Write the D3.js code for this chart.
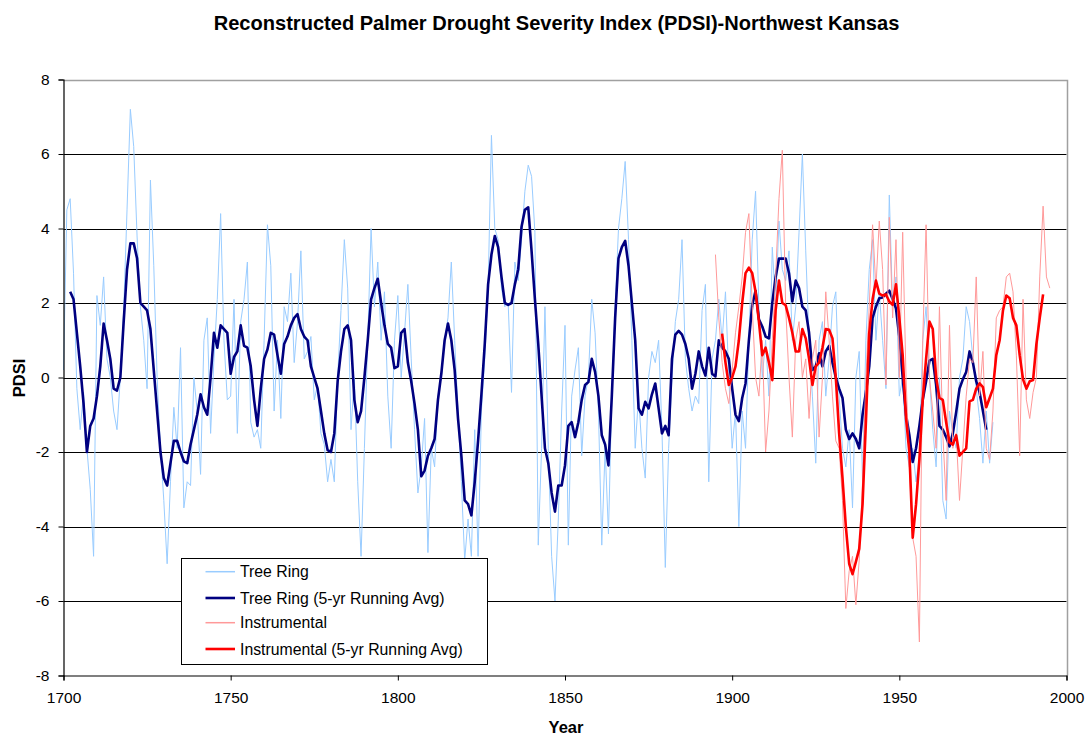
<!DOCTYPE html>
<html><head><meta charset="utf-8">
<script src="https://cdn.jsdelivr.net/npm/d3@7"></script>
<style>
body{margin:0;background:#fff}
svg{display:block}
text{font-family:Arial,"Liberation Sans",sans-serif;fill:#000}
</style>
</head><body>
<svg id="chart" width="1089" height="742"></svg>
<script>
const chartTitle = "Reconstructed Palmer Drought Severity Index (PDSI)-Northwest Kansas";
const xAxisTitle = "Year";
const yAxisTitle = "PDSI";
const xTickValues = [1700, 1750, 1800, 1850, 1900, 1950, 2000];
const yTickValues = [-8, -6, -4, -2, 0, 2, 4, 6, 8];
const seriesNames = ["Tree Ring", "Tree Ring (5-yr Running Avg)", "Instrumental", "Instrumental (5-yr Running Avg)"];

// Tree ring reconstruction, annual, 1700-1978
const treeRingStart = 1700;
const treeRing = [
 0.2, 4.5, 4.8, 2.8, -0.3, -1.4, -0.4, -1.9, -3.0, -4.8,
 2.2, 1.4, 2.7, 0.5, 0.0, -0.9, -1.4, 0.0, 1.8, 4.5,
 7.2, 6.2, 3.8, 1.9, 1.0, -0.3, 5.3, 3.0, 0.0, -1.9,
 -3.3, -5.0, -2.8, -0.8, -1.9, 0.8, -3.5, -2.8, -2.9, 0.0,
 -0.9, -2.6, 1.0, 1.6, -1.5, 0.5, 2.1, 4.4, 1.0, -0.6,
 -0.5, 2.1, -1.5, 1.5, 2.1, 3.1, -1.2, -1.6, -1.4, -1.9,
 1.0, 4.1, 3.0, -0.9, 1.0, -1.1, 1.9, 1.5, 2.8, 0.4,
 1.5, 3.4, 0.5, 0.7, 1.1, -0.6, -0.2, -1.5, -1.8, -2.8,
 -2.2, -2.8, 0.0, 1.8, 3.7, 2.4, -1.4, 0.0, -2.8, -4.8,
 -1.9, 1.0, 4.0, 1.9, 3.1, 1.0, 2.3, -0.5, -1.9, 1.0,
 2.2, 0.0, 1.2, 2.5, 0.5, -1.4, -3.1, -2.4, -1.1, -4.7,
 -1.9, -2.4, -0.5, 0.0, 1.0, 1.6, 3.1, 1.0, -0.9, -2.8,
 -4.9, -3.8, -4.8, -1.4, -4.8, -0.9, 0.5, 2.4, 6.5, 4.0,
 3.7, 2.4, 1.9, 2.0, -0.4, 3.1, 2.6, 3.7, 5.0, 5.7,
 5.4, 3.9, -4.5, -1.9, 1.9, -1.9, -4.8, -6.0, -3.8, -0.9,
 1.4, -4.5, -0.5, 0.2, 0.8, -2.1, -0.5, 0.0, 2.1, 1.2,
 -0.9, -4.5, -1.9, -4.2, -0.5, 1.9, 4.0, 4.8, 5.8, 3.7,
 1.0, -1.9, -0.5, -1.9, -2.7, 0.0, 0.7, 0.4, 1.0, -1.4,
 -5.1, -1.9, 0.0, 1.5, 2.1, 3.7, 0.5, -0.3, -0.9, -0.5,
 -0.7, 1.8, 2.5, -2.8, 0.5, 1.0, 2.1, 1.0, 2.3, 0.0,
 -1.9, -0.9, -4.0, -0.9, -1.9, 1.0, 3.7, 5.0, 1.9, 0.0,
 1.0, -0.5, 3.5, 1.9, 4.2, 2.9, 2.6, 3.4, 1.0, 1.9,
 3.9, 6.0, 3.4, 1.0, -0.5, -2.3, 1.0, 1.5, -0.5, 0.5,
 1.9, 2.3, -0.5, -1.9, -2.4, -1.4, -3.5, 0.0, 0.7, -2.8,
 1.0, 2.9, 3.7, 1.0, 2.3, 1.0, -0.3, 4.9, 1.9, 2.7,
 -0.5, 0.0, -1.9, -2.4, -1.9, -2.8, -2.1, 1.0, 1.9, 0.0,
 -1.4, -2.4, 0.0, -3.3, -3.8, -0.9, -1.5, -1.9, 0.0, 0.5,
 1.9, 1.5, 0.5, -0.3, -1.1, -2.3, -0.9, -2.3, -1.2
];

// Tree ring 5-yr running average, 1702-1976
const treeRingAvgStart = 1702;
const treeRingAvg = [
 2.3, 2.1, 1.2, 0.3, -0.7, -2.0, -1.3, -1.1,
 -0.5, 0.3, 1.45, 1.0, 0.5, -0.3, -0.35, 0.0, 1.5, 2.9,
 3.6, 3.6, 3.2, 2.0, 1.9, 1.8, 1.3, 0.2, -0.9, -2.0,
 -2.7, -2.9, -2.3, -1.7, -1.7, -2.0, -2.25, -2.3, -1.8, -1.4,
 -1.0, -0.45, -0.8, -1.0, 0.0, 1.2, 0.8, 1.4, 1.3, 1.2,
 0.1, 0.55, 0.7, 1.4, 0.85, 0.8, 0.3, -0.6, -1.3, -0.3,
 0.5, 0.75, 1.2, 1.15, 0.6, 0.1, 0.9, 1.1, 1.4, 1.6,
 1.7, 1.3, 1.1, 1.0, 0.3, 0.0, -0.3, -0.9, -1.5, -1.95,
 -2.0, -1.5, -0.1, 0.7, 1.3, 1.4, 1.0, -0.6, -1.2, -0.9,
 0.0, 1.0, 2.1, 2.4, 2.65, 2.0, 1.4, 0.9, 0.8, 0.25,
 0.3, 1.2, 1.3, 0.4, -0.1, -0.7, -1.4, -2.65, -2.5, -2.1,
 -1.9, -1.65, -0.6, 0.1, 1.0, 1.45, 1.0, 0.2, -1.1, -2.1,
 -3.3, -3.4, -3.7, -2.8, -1.7, -0.45, 0.9, 2.5, 3.3, 3.8,
 3.5, 2.7, 2.0, 1.95, 2.0, 2.5, 2.9, 4.05, 4.5, 4.57,
 3.4, 2.1, 0.9, -0.5, -1.9, -2.3, -3.1, -3.6, -2.9, -2.9,
 -2.36, -1.3, -1.2, -1.6, -1.2, -0.6, -0.2, -0.12, 0.5, 0.15,
 -0.5, -1.55, -1.8, -2.36, -0.5, 1.6, 3.2, 3.5, 3.67, 3.0,
 2.0, 1.0, -0.83, -1.0, -0.65, -0.83, -0.45, -0.16, -0.83, -1.5,
 -1.3, -1.55, 0.5, 1.15, 1.25, 1.15, 0.9, 0.5, -0.3, 0.1,
 0.7, 0.3, 0.05, 0.8, 0.1, 0.03, 1.0, 0.8, 0.7, 0.5,
 -0.3, -1.0, -1.17, -0.55, -0.16, 1.0, 1.94, 2.33, 1.56, 1.37,
 1.1, 1.05, 2.0, 2.7, 3.19, 3.19, 3.19, 2.8, 2.04, 2.6,
 2.4, 1.9, 1.8, 1.2, 0.2, 0.3, 0.65, 0.3, 0.7, 0.85,
 0.4, 0.0, -0.3, -0.55, -1.4, -1.65, -1.5, -1.65, -1.9, -1.0,
 -0.4, 0.3, 1.6, 1.9, 2.13, 2.15, 2.25, 2.33, 2.1, 1.85,
 1.1, 0.0, -1.0, -1.55, -2.27, -1.9, -1.3, -0.6, -0.1, 0.45,
 0.5, -0.2, -1.3, -1.4, -1.6, -1.85, -1.5, -0.93, -0.3, -0.05,
 0.15, 0.7, 0.4, -0.1, -0.4, -0.9, -1.4
];

// Instrumental PDSI, annual, 1895-1995
const instrumentalStart = 1895;
const instrumental = [
 3.3, 1.6, 0.4, -0.3, -0.7,
 0.2, 1.2, 1.9, 2.7, 3.9, 4.4, 1.9, 0.0, -0.5, 1.0,
 -2.0, -0.9, 1.0, 2.7, 4.8, 6.1, 1.9, 0.0, -1.6, 1.0,
 1.5, 0.0, 0.5, -1.1, 0.5, 1.0, -1.6, 0.0, 2.3, 1.0,
 -0.5, -1.7, -1.9, -3.3, -6.2, -5.2, -4.8, -6.1, -4.9, -2.8,
 0.0, 1.9, 4.1, 2.4, 4.2, 2.9, -0.2, 4.3, 1.6, 3.7,
 0.0, 3.9, 0.0, -2.4, -4.3, -4.8, -7.1, 1.0, 4.1, 0.0,
 -0.9, -1.9, 1.9, -1.5, -3.3, 1.4, -1.9, -1.5, -3.3, -1.9,
 -0.5, 0.5, 0.4, 2.7, -0.5, 0.7, -1.9, -2.2, -0.9, 1.6,
 1.8, 1.9, 2.7, 2.8, 2.3, 0.6, -2.1, 2.1, -0.6, -1.1,
 -0.4, 0.0, 2.7, 4.6, 2.7, 2.4
];

// Instrumental 5-yr running average, 1897-1993
const instrumentalAvgStart = 1897;
const instrumentalAvg = [
 1.18, 0.4, -0.2,
 0.0, 0.3, 1.0, 2.0, 2.8, 2.95, 2.8, 2.3, 1.5, 0.6,
 0.8, 0.4, -0.07, 1.8, 2.6, 2.0, 1.94, 1.6, 1.2, 0.7,
 0.7, 1.3, 1.05, 0.5, -0.2, 0.3, 0.4, 0.8, 1.3, 1.28,
 1.05, 0.0, -1.5, -2.7, -4.0, -5.0, -5.28, -4.95, -4.6, -3.4,
 -1.2, 1.2, 2.1, 2.6, 2.25, 2.2, 2.23, 2.04, 1.95, 2.5,
 1.6, 0.6, -1.1, -2.0, -4.3, -3.4, -2.2, -0.6, 0.5, 1.5,
 1.3, 0.0, -0.55, -0.6, -1.2, -1.74, -1.8, -1.55, -2.1, -2.0,
 -1.9, -0.64, -0.6, -0.3, -0.16, -0.26, -0.8, -0.55, -0.3, 0.6,
 1.0, 1.8, 2.2, 2.13, 1.6, 1.4, 0.6, -0.05, -0.3, -0.1,
 -0.07, 0.9, 1.6, 2.23
];

const seriesColors = ["#99CCFF", "#000080", "#FF9999", "#FF0000"];
const seriesWidths = [1, 2.6, 1, 2.6];

const svg = d3.select("#chart");
const x = d3.scaleLinear().domain([1700, 2000]).range([63.5, 1066.5]);
const y = d3.scaleLinear().domain([-8, 8]).range([675.5, 79.5]);

// gridlines
svg.append("g").selectAll("line")
  .data(yTickValues.filter(v => v > -8 && v < 8))
  .join("line")
  .attr("x1", x(1700)).attr("x2", x(2000))
  .attr("y1", d => Math.round(y(d)) + 0.5).attr("y2", d => Math.round(y(d)) + 0.5)
  .attr("stroke", "#000").attr("stroke-width", 1);

// plot border (top & right, gray)
svg.append("path")
  .attr("d", `M${x(1700)},${Math.round(y(8))+0.5}H${Math.round(x(2000))+0.5}V${y(-8)}`)
  .attr("fill", "none").attr("stroke", "#a0a0a0").attr("stroke-width", 1.5);

// series
const toPoints = (start, vals) => vals.map((v, i) => [start + i, v]);
const seriesData = [
  toPoints(treeRingStart, treeRing),
  toPoints(treeRingAvgStart, treeRingAvg),
  toPoints(instrumentalStart, instrumental),
  toPoints(instrumentalAvgStart, instrumentalAvg)
];
const line = d3.line().x(d => x(d[0])).y(d => y(d[1]));
const plotG = svg.append("g");
seriesData.forEach((s, i) => {
  plotG.append("path").datum(s)
    .attr("d", line)
    .attr("fill", "none")
    .attr("stroke", seriesColors[i])
    .attr("stroke-width", seriesWidths[i])
    .attr("stroke-linejoin", "round");
});

// axes
const yAxis = svg.append("g").attr("transform", `translate(${x(1700)},0)`)
  .call(d3.axisLeft(y).tickValues(yTickValues).tickSize(5).tickPadding(9).tickFormat(d3.format("d")));
const xAxis = svg.append("g").attr("transform", `translate(0,${y(-8)})`)
  .call(d3.axisBottom(x).tickValues(xTickValues).tickSize(5).tickPadding(11).tickFormat(d3.format("d")));
[yAxis, xAxis].forEach(a => {
  a.select(".domain").attr("stroke", "#000").attr("stroke-width", 1.2);
  a.selectAll(".tick line").attr("stroke", "#000");
  a.selectAll("text").style("font-size", "15.5px").style("font-family", "Arial, 'Liberation Sans', sans-serif").attr("fill", "#000");
});
yAxis.selectAll("text").text(d => d < 0 ? "-" + Math.abs(d) : d);

// title
const t = svg.append("text").attr("x", 556.5).attr("y", 30)
  .attr("text-anchor", "middle").style("font-weight", "bold").style("font-size", "18px")
  .text(chartTitle);
const tw = t.node().getComputedTextLength();
t.style("font-size", (18 * 686 / tw).toFixed(2) + "px");

// axis titles
svg.append("text").attr("transform", "translate(19,378) rotate(-90)")
  .attr("text-anchor", "middle").attr("dominant-baseline", "central")
  .style("font-weight", "bold").style("font-size", "16.5px").text(yAxisTitle);
svg.append("text").attr("x", 566).attr("y", 733)
  .attr("text-anchor", "middle")
  .style("font-weight", "bold").style("font-size", "16.5px").text(xAxisTitle);

// legend
const lg = svg.append("g");
lg.append("rect").attr("x", 181.5).attr("y", 558.5).attr("width", 306).attr("height", 106)
  .attr("fill", "#fff").attr("stroke", "#000").attr("stroke-width", 1);
const rowY = [571.7, 598, 622.7, 649];
seriesNames.forEach((name, i) => {
  lg.append("line").attr("x1", 205.5).attr("x2", 235).attr("y1", rowY[i]).attr("y2", rowY[i])
    .attr("stroke", seriesColors[i]).attr("stroke-width", seriesWidths[i] === 1 ? 1.5 : 2.6);
  lg.append("text").attr("x", 240).attr("y", rowY[i]).attr("dominant-baseline", "central")
    .style("font-size", "15.8px").text(name);
});
</script>
</body></html>
